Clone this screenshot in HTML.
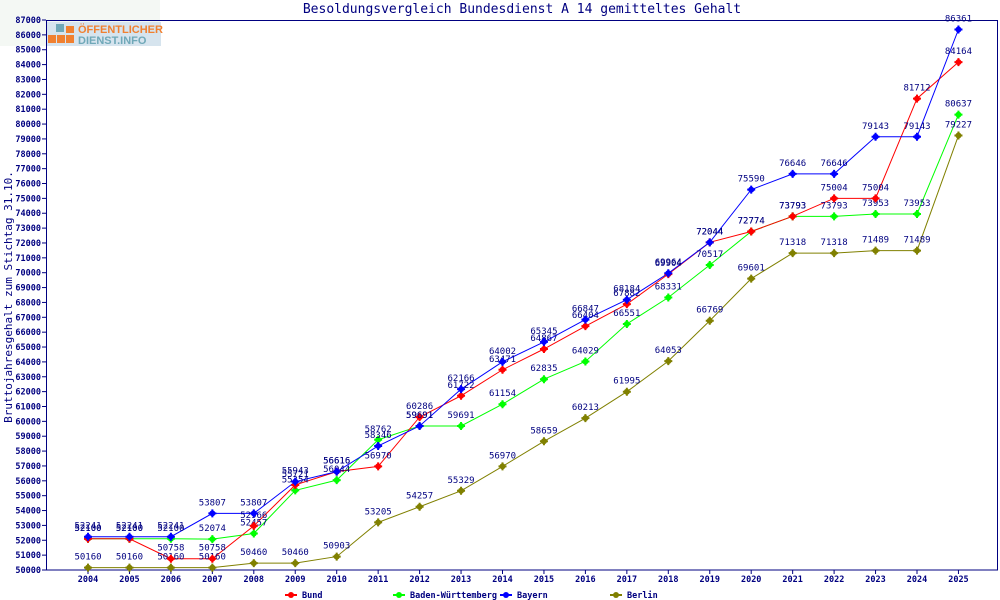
<!DOCTYPE html>
<html><head><meta charset="utf-8"><style>
html,body{margin:0;padding:0;background:#fff;}
svg{display:block;font-family:"DejaVu Sans Mono","Liberation Mono",monospace;}
</style></head><body>
<svg id="s" width="1000" height="600" xmlns="http://www.w3.org/2000/svg">
<rect width="1000" height="600" fill="#fff"/>
<text x="522" y="13" text-anchor="middle" font-size="13" fill="#000080">Besoldungsvergleich Bundesdienst A 14 gemitteltes Gehalt</text>
<text transform="translate(12,297) rotate(-90)" text-anchor="middle" font-size="11" fill="#000080">Bruttojahresgehalt zum Stichtag 31.10.</text>
<rect x="0" y="0" width="160" height="46" fill="#f4f8f4"/>
<rect x="47" y="22" width="114" height="24" fill="#d6e4ee"/>
<rect x="56" y="24" width="8" height="8" fill="#6fa8b8"/>
<rect x="66" y="26" width="8" height="7" fill="#f08030"/><rect x="48" y="35" width="8" height="8" fill="#f08030"/><rect x="57" y="35" width="8" height="8" fill="#f08030"/><rect x="66" y="35" width="8" height="8" fill="#f08030"/>
<text x="78" y="33" font-family="Liberation Sans,sans-serif" font-weight="bold" font-size="11" fill="#f08030">ÖFFENTLICHER</text>
<text x="78" y="44" font-family="Liberation Sans,sans-serif" font-weight="bold" font-size="11" fill="#6fa8b8">DIENST.INFO</text>
<g id="g"></g>
</svg>
<script>
var g=document.getElementById('g'),ns='http://www.w3.org/2000/svg';
function el(t,a,txt){var e=document.createElementNS(ns,t);for(var k in a)e.setAttribute(k,a[k]);if(txt!=null)e.textContent=txt;g.appendChild(e);return e;}
function X(i){return 88+i*41.45;}
function Y(v){return 570-(v-50000)*550/37000;}
el('rect',{x:46.5,y:20.5,width:951,height:549.5,fill:'none',stroke:'#000080','stroke-width':1});
for(var v=50000;v<=87000;v+=1000){var y=Y(v);el('line',{x1:42,x2:46,y1:y,y2:y,stroke:'#000080'});el('text',{x:41,y:y+3,'text-anchor':'end','font-size':8.5,'font-weight':'bold',fill:'#000080'},v);}
for(var i=0;i<22;i++){el('line',{x1:X(i),x2:X(i),y1:570,y2:574,stroke:'#000080'});el('text',{x:X(i),y:582,'text-anchor':'middle','font-size':8.5,'font-weight':'bold',fill:'#000080'},2004+i);}
var S=[
['#808000',[50160,50160,50160,50160,50460,50460,50903,53205,54257,55329,56970,58659,60213,61995,64053,66769,69601,71318,71318,71489,71489,79227]],
['#00ff00',[52100,52100,52100,52074,52457,55354,56044,58762,59691,59691,61154,62835,64029,66551,68331,70517,72774,73793,73793,73953,73953,80637]],
['#ff0000',[52100,52100,50758,50758,52966,55721,56616,56970,60286,61722,63471,64867,66404,67882,69904,72044,72774,73793,75004,75004,81712,84164]],
['#0000ff',[52241,52241,52241,53807,53807,55943,56616,58346,59691,62166,64002,65345,66847,68184,69964,72044,75590,76646,76646,79143,79143,86361]]];
S.forEach(function(s){var p=s[1].map(function(v,i){return X(i)+','+Y(v)}).join(' ');el('polyline',{points:p,fill:'none',stroke:s[0],'stroke-width':1});});
S.forEach(function(s){s[1].forEach(function(v,i){var x=X(i),y=Y(v);el('circle',{cx:x,cy:y,r:3,fill:s[0]});el('path',{d:'M'+(x-4)+' '+y+'h8M'+x+' '+(y-4)+'v8',stroke:s[0],'stroke-width':2});el('text',{x:x,y:y-8,'text-anchor':'middle','font-size':9,fill:'#000080'},v);});});
var L=[['#ff0000','Bund',290],['#00ff00','Baden-Württemberg',398],['#0000ff','Bayern',505],['#808000','Berlin',615]];
L.forEach(function(l){var x=l[2],y=595;el('line',{x1:x-5,x2:x+7,y1:y,y2:y,stroke:l[0],'stroke-width':2});el('circle',{cx:x+1,cy:y,r:3,fill:l[0]});el('text',{x:x+12,y:y+3,'font-size':8.5,'font-weight':'bold',fill:'#000080'},l[1]);});
</script>
</body></html>
